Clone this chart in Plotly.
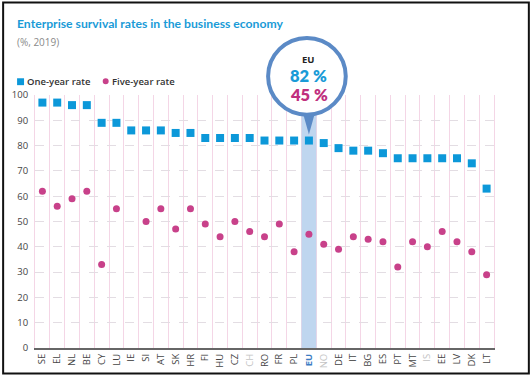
import plotly.graph_objects as go

countries = ["SE", "EL", "NL", "BE", "CY", "LU", "IE", "SI", "AT", "SK", "HR", "FI", "HU", "CZ", "CH", "RO",
             "FR", "PL", "EU", "NO", "DE", "IT", "BG", "ES", "PT", "MT", "IS", "EE", "LV", "DK", "LT"]
one_year = [97, 97, 96, 96, 89, 89, 86, 86, 86, 85, 85, 83, 83, 83, 83, 82,
            82, 82, 82, 81, 79, 78, 78, 77, 75, 75, 75, 75, 75, 73, 63]
five_year = [62, 56, 59, 62, 33, 55, None, 50, 55, 47, 55, 49, 44, 50, 46, 44,
             49, 38, 45, 41, 39, 44, 43, 42, 32, 42, 40, 46, 42, 38, 29]
grey_labels = ["CH", "NO", "IS"]
highlight = "EU"
y_ticks = [0, 10, 20, 30, 40, 50, 60, 70, 80, 90, 100]

BLUE = "#0c98d9"
PINK = "#c8418a"
RING = "#5b8ac6"

W, H = 531, 380
L, R, T, B = 33, 494, 95, 352


def px2x(px):
    return (px - L) / (R - L)


def py2y(py):
    return (B - py) / (B - T)


ticktext = []
for c in countries:
    if c in grey_labels:
        ticktext.append(f"<span style='color:#c4c4c4'>{c}</span>")
    elif c == highlight:
        ticktext.append(f"<b><span style='color:#3d7dc4'>{c}</span></b>")
    else:
        ticktext.append(c)

fig = go.Figure()
fig.add_trace(go.Scatter(x=countries, y=one_year, mode="markers",
                         marker=dict(symbol="square", size=8, color=BLUE),
                         name="One-year rate", showlegend=False))
fig.add_trace(go.Scatter(x=countries, y=five_year, mode="markers",
                         marker=dict(symbol="circle", size=7, color=PINK),
                         name="Five-year rate", showlegend=False))

idx = countries.index(highlight)
eu_px = L + (idx + 0.5) / len(countries) * (R - L)
eu_val = one_year[idx]
eu_five = five_year[idx]

shapes = [
    dict(type="rect", xref="x", yref="y", x0=idx - 0.5, x1=idx + 0.5, y0=0, y1=100,
         fillcolor="#bfd6ef", line=dict(width=0), layer="between"),
    dict(type="path", xref="paper", yref="paper",
         path=f"M {px2x(eu_px - 7.5)} {py2y(108)} L {px2x(eu_px + 7.5)} {py2y(108)} L {px2x(eu_px)} {py2y(135)} Z",
         fillcolor=RING, line=dict(width=0), layer="above"),
    dict(type="circle", xref="paper", yref="paper",
         x0=px2x(eu_px - 2 - 39), x1=px2x(eu_px - 2 + 39), y0=py2y(76 + 39), y1=py2y(76 - 39),
         fillcolor="white", line=dict(color=RING, width=4), layer="above"),
    dict(type="rect", xref="paper", yref="paper", x0=px2x(15), x1=px2x(22), y0=py2y(85), y1=py2y(78),
         fillcolor=BLUE, line=dict(width=0)),
    dict(type="circle", xref="paper", yref="paper", x0=px2x(101), x1=px2x(107), y0=py2y(84), y1=py2y(78),
         fillcolor=PINK, line=dict(width=0)),
    dict(type="rect", xref="paper", yref="paper", x0=px2x(1), x1=px2x(529), y0=py2y(378), y1=py2y(1),
         line=dict(color="#111111", width=2), fillcolor="rgba(0,0,0,0)", layer="above"),
]

FONT = "Open Sans"
NARROW = "Lato"
annotations = [
    dict(text="Enterprise survival rates in the business economy", x=px2x(13), y=py2y(22),
         xanchor="left", yanchor="middle", showarrow=False,
         font=dict(family=NARROW, size=12.2, color="#1a9bd7", weight=700)),
    dict(text="(%, 2019)", x=px2x(13), y=py2y(41), xanchor="left", yanchor="middle", showarrow=False,
         font=dict(family=FONT, size=10, color="#8a8a8a")),
    dict(text="One-year rate", x=px2x(23), y=py2y(81.5), xanchor="left", yanchor="middle", showarrow=False,
         font=dict(family=FONT, size=9.5, color="#333333", weight=600)),
    dict(text="Five-year rate", x=px2x(108), y=py2y(81.5), xanchor="left", yanchor="middle", showarrow=False,
         font=dict(family=FONT, size=9.5, color="#333333", weight=600)),
    dict(text=f"<b>{highlight}</b>", x=px2x(eu_px), y=py2y(58.5), xanchor="center", yanchor="middle",
         showarrow=False, font=dict(family=FONT, size=9.5, color="#222222")),
    dict(text=f"{eu_val} %", x=px2x(eu_px), y=py2y(75.5), xanchor="center", yanchor="middle",
         showarrow=False, font=dict(family=NARROW, size=16.5, color="#1a9bd7", weight=800)),
    dict(text=f"{eu_five} %", x=px2x(eu_px), y=py2y(95), xanchor="center", yanchor="middle",
         showarrow=False, font=dict(family=NARROW, size=16.5, color="#c0307e", weight=800)),
]
for a in annotations:
    a["xref"] = "paper"
    a["yref"] = "paper"

fig.update_layout(
    width=W, height=H,
    margin=dict(l=L, r=W - R, t=T, b=H - B, pad=0),
    paper_bgcolor="white", plot_bgcolor="white",
    font=dict(family=FONT, color="#444444", size=10),
    shapes=shapes, annotations=annotations,
    showlegend=False,
    xaxis=dict(type="category", categoryorder="array", categoryarray=countries,
               tickmode="array", tickvals=countries, ticktext=ticktext,
               tickangle=-90, tickson="boundaries", ticks="",
               showgrid=True, gridcolor="#f4d6e6", gridwidth=1,
               showline=True, linecolor="#666666", linewidth=2,
               range=[-0.5, len(countries) - 0.5], tickfont=dict(size=9.5, color="#444444"),
               fixedrange=True),
    yaxis=dict(range=[0, 100], tickmode="array", tickvals=y_ticks,
               showgrid=True, gridcolor="#e3dde3", griddash="dash", gridwidth=1,
               zeroline=False, showline=True, linecolor="#f4d6e6", linewidth=1, mirror=True,
               ticks="", tickfont=dict(size=9.5, color="#444444"), ticklabelstandoff=4,
               fixedrange=True),
)

fig.write_html("out.html", config={"displayModeBar": False},
               post_script="document.body.style.margin='0';document.body.style.overflow='hidden';")
